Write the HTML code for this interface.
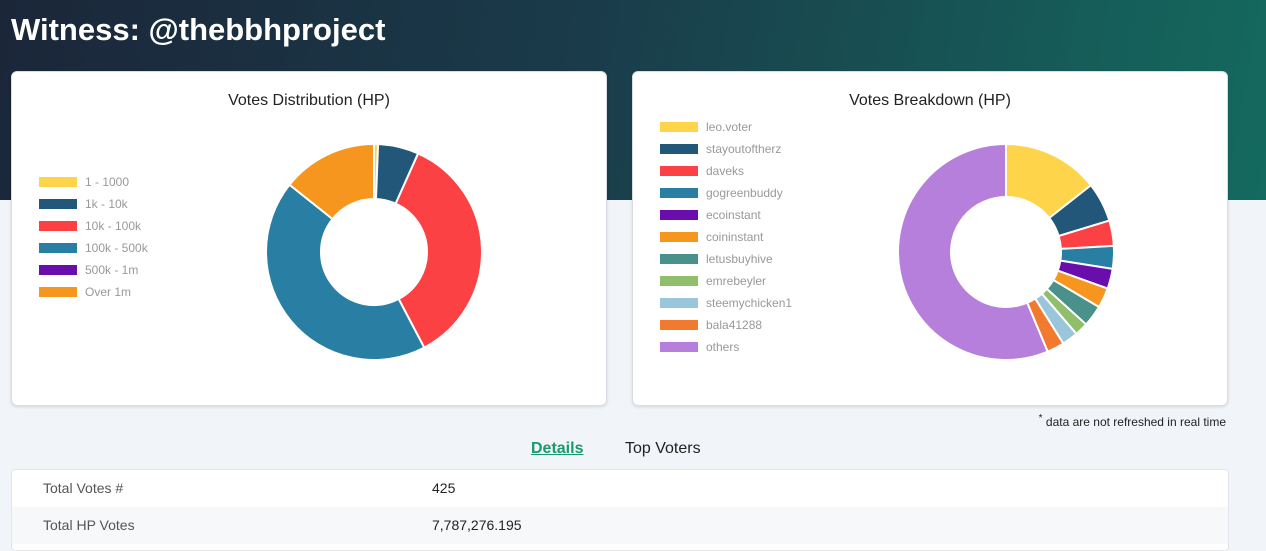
<!DOCTYPE html>
<html><head><meta charset="utf-8"><style>
body{margin:0;width:1266px;height:539px;overflow:hidden;background:#f1f4f8;font-family:"Liberation Sans",sans-serif;position:relative}
.hdr{position:absolute;left:0;top:0;width:1266px;height:200px;background:linear-gradient(100deg,#1b2639 0%,#1a3b4a 45%,#146a5e 100%)}
h1{position:absolute;left:11px;top:12px;margin:0;color:#fff;font-size:31px;font-weight:bold}
.card{position:absolute;top:71px;width:594px;height:333px;background:#fff;border:1px solid #d8dde3;border-radius:6px;box-shadow:0 1px 3px rgba(0,0,0,.12)}
.title{position:absolute;top:20px;width:100%;text-align:center;font-size:16px;color:#222}
.leg{position:absolute;font-size:12px;color:#999}
.leg div{height:22px;display:flex;align-items:center}
.leg span{display:inline-block;width:38px;height:10px;margin-right:8px}
svg{position:absolute;left:0;top:0}
.note{position:absolute;right:40px;top:413px;font-size:12px;color:#222}
.tabs{position:absolute;top:440px;font-size:16px}
.tbl{position:absolute;left:11px;top:469px;width:1216px;height:80px;background:#fff;border:1px solid #e2e6ea;border-radius:4px}
.row{position:absolute;left:0;width:100%;height:37px;font-size:14px;color:#222}
.row b{position:absolute;left:31px;top:10px;font-weight:normal;color:#555}
.row i{position:absolute;left:420px;top:10px;font-style:normal}
</style></head><body>
<div class="hdr"></div>
<h1>Witness: @thebbhproject</h1>
<div class="card" style="left:11px">
<div class="title">Votes Distribution (HP)</div>
<div class="leg" id="leg1" style="left:27px;top:99px"></div>
<svg id="s1" width="594" height="333"></svg>
</div>
<div class="card" style="left:632px">
<div class="title">Votes Breakdown (HP)</div>
<div class="leg" id="leg2" style="left:27px;top:44px"></div>
<svg id="s2" width="594" height="333"></svg>
</div>
<div class="note"><sup>*</sup> data are not refreshed in real time</div>
<div class="tabs" style="left:531px;color:#1a9a6c;font-weight:bold;text-decoration:underline">Details</div>
<div class="tabs" style="left:625px;color:#222">Top Voters</div>
<div class="tbl">
<div class="row" style="top:0;border-bottom:1px solid #e2e6ea"><b>Total Votes #</b><i>425</i></div>
<div class="row" style="top:37px;background:#f7f8fa"><b>Total HP Votes</b><i>7,787,276.195</i></div>
</div>
<script>
const labels1=["1 - 1000","1k - 10k","10k - 100k","100k - 500k","500k - 1m","Over 1m"];
const values1=[0.6,6.1,35.6,43.4,0,14.3];
const colors1=["#fdd44a","#22577a","#fc4145","#287fa3","#6a0dad","#f7961e"];
const labels2=["leo.voter","stayoutoftherz","daveks","gogreenbuddy","ecoinstant","coininstant","letusbuyhive","emrebeyler","steemychicken1","bala41288","others"];
const values2=[14.4,5.9,3.8,3.4,3.0,3.0,3.2,2.0,2.4,2.6,56.3];
const colors2=["#fdd44a","#22577a","#fc4145","#287fa3","#6a0dad","#f7961e","#4b918b","#8fbf6a","#9ac6dc","#f17a2e","#b57fdb"];
const NS="http://www.w3.org/2000/svg";
function donut(svg,vals,cols,cx,cy,R,r){
 const tot=vals.reduce((a,b)=>a+b,0);let a=0;
 vals.forEach((v,i)=>{if(v<=0)return;const a0=a/tot*2*Math.PI,a1=(a+v)/tot*2*Math.PI;a+=v;
  const p=(ang,rad)=>[cx+rad*Math.sin(ang),cy-rad*Math.cos(ang)];
  const [x0,y0]=p(a0,R),[x1,y1]=p(a1,R),[x2,y2]=p(a1,r),[x3,y3]=p(a0,r);const lg=a1-a0>Math.PI?1:0;
  const el=document.createElementNS(NS,"path");
  el.setAttribute("d",`M${x0},${y0}A${R},${R} 0 ${lg} 1 ${x1},${y1}L${x2},${y2}A${r},${r} 0 ${lg} 0 ${x3},${y3}Z`);
  el.setAttribute("fill",cols[i]);el.setAttribute("stroke","#fff");el.setAttribute("stroke-width","2");
  
  
  svg.appendChild(el);});
}
function legend(box,labs,cols){labs.forEach((l,i)=>{const d=document.createElement("div");d.innerHTML=`<span style="background:${cols[i]}"></span>${l}`;
 
 
 box.appendChild(d);});}
donut(document.getElementById("s1"),values1,colors1,362,180,108,53);
donut(document.getElementById("s2"),values2,colors2,373,180,108,55);
legend(document.getElementById("leg1"),labels1,colors1);
legend(document.getElementById("leg2"),labels2,colors2);
</script>
</body></html>
